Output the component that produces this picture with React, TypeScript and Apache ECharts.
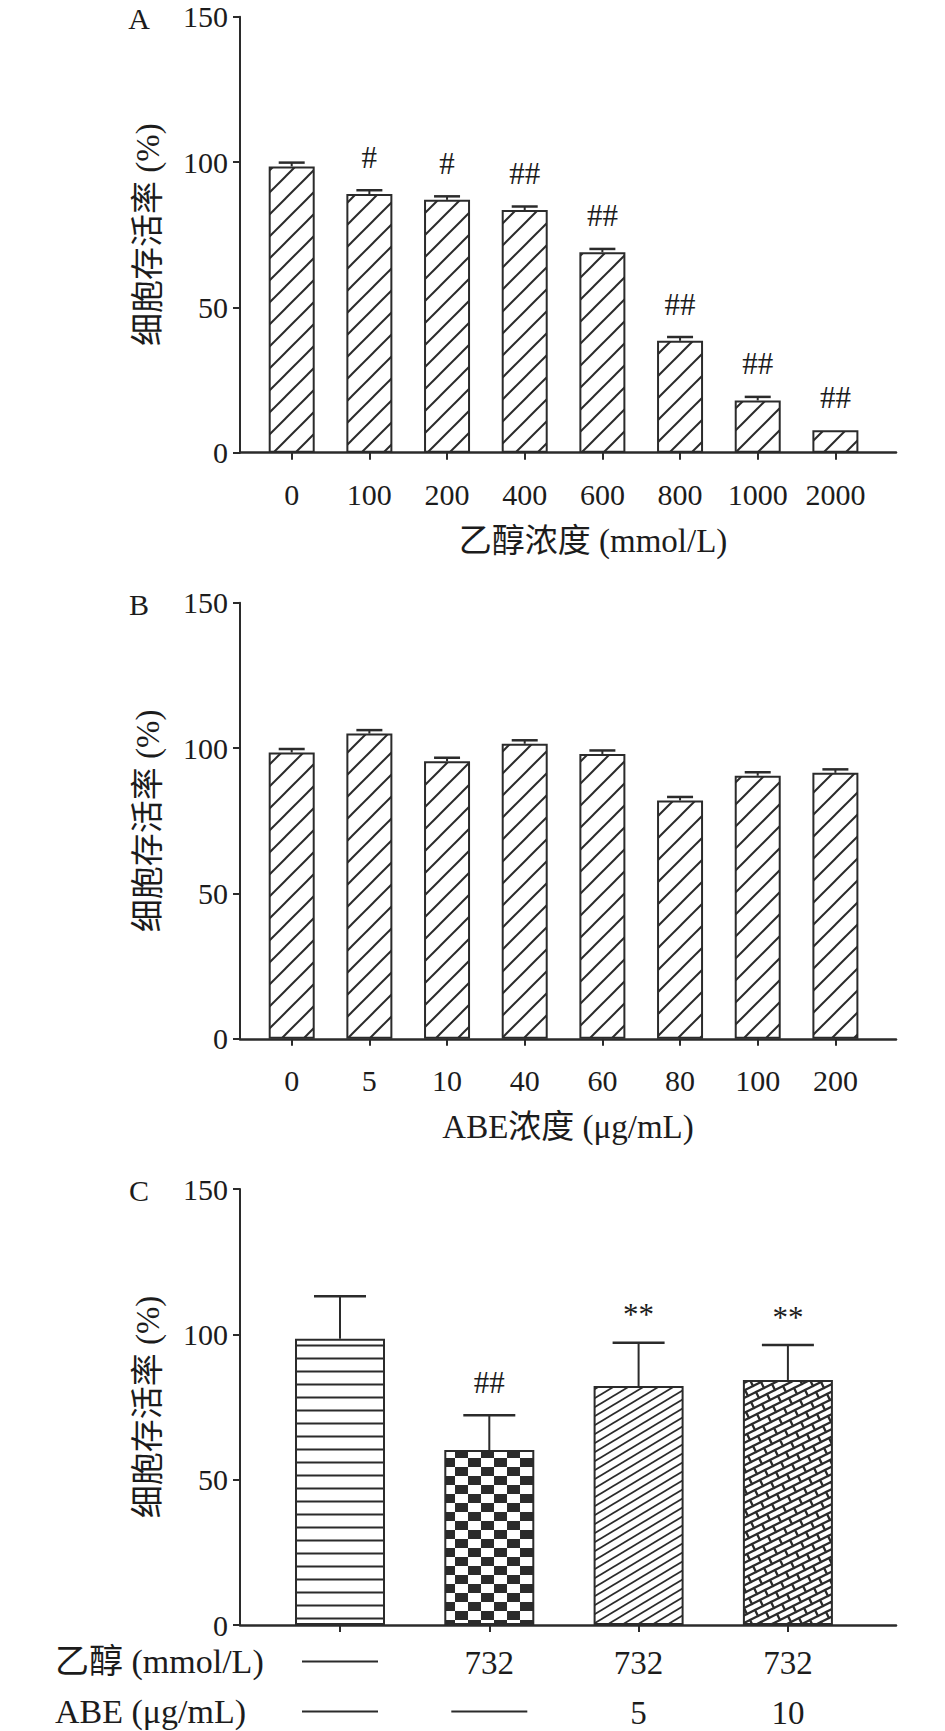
import React, { useEffect, useRef } from 'react';
import * as echarts from 'echarts';

// ---------- data ----------
const ethanolConc = ['0', '100', '200', '400', '600', '800', '1000', '2000'];
const ethanolViability = [98.5, 89, 87, 83.5, 69, 38.5, 18, 7.7];
const ethanolError = [1.3, 1.3, 1.2, 1.2, 1.1, 1.3, 1.2, 0];
const ethanolMarks = ['', '#', '#', '##', '##', '##', '##', '##'];

const abeConc = ['0', '5', '10', '40', '60', '80', '100', '200'];
const abeViability = [98.5, 105, 95.5, 101.5, 98, 82, 90.5, 91.5];
const abeError = [1.2, 1.2, 1.2, 1.2, 1.2, 1.2, 1.2, 1.2];
const abeMarks = ['', '', '', '', '', '', '', ''];

const groupEthanol = [null, '732', '732', '732'];
const groupAbe = [null, null, '5', '10'];
const groupViability = [98.5, 60.2, 82.2, 84.3];
const groupError = [14.6, 12.0, 14.9, 12.0];
const groupMarks = ['', '##', '**', '**'];

const yLabel = '细胞存活率 (%)';
const xLabelA = '乙醇浓度 (mmol/L)';
const xLabelB = 'ABE浓度 (μg/mL)';
const rowLabelEthanol = '乙醇 (mmol/L)';
const rowLabelAbe = 'ABE (μg/mL)';
const panelLetters = ['A', 'B', 'C'];

// ---------- styles ----------
const INK = '#2b2b2b';
const TXT = '#1c1c1c';
const FONT = "'Liberation Serif', 'Times New Roman', 'Noto Sans CJK SC', serif";

function makeTile(w: number, h: number, draw: (ctx: CanvasRenderingContext2D) => void) {
  const c = document.createElement('canvas');
  c.width = w;
  c.height = h;
  const ctx = c.getContext('2d') as CanvasRenderingContext2D;
  ctx.fillStyle = '#ffffff';
  ctx.fillRect(0, 0, w, h);
  ctx.strokeStyle = INK;
  ctx.fillStyle = INK;
  ctx.lineWidth = 2;
  draw(ctx);
  return c;
}

function diagTile(w: number, h: number, lw: number) {
  return makeTile(w, h, (ctx) => {
    ctx.lineWidth = lw;
    const s = h / w;
    for (let k = -1; k <= 1; k++) {
      ctx.beginPath();
      ctx.moveTo(-2, h * (1 + k) + 2 * s);
      ctx.lineTo(w + 2, h * k - 2 * s);
      ctx.stroke();
    }
  });
}

function hLineTile() {
  return makeTile(4, 13, (ctx) => {
    ctx.fillRect(0, 5.5, 4, 2);
  });
}

function checkerTile() {
  return makeTile(26, 18, (ctx) => {
    ctx.fillRect(0, 0, 13, 9);
    ctx.fillRect(13, 9, 13, 9);
  });
}

function brickTile() {
  // rotated brick wall, lattice a=(16,-8), b=(11,2); periodic in 60 x 120
  return makeTile(60, 120, (ctx) => {
    ctx.lineWidth = 2.3;
    ctx.lineCap = 'round';
    const a = [16, -8];
    const c = [3, 6];
    const b = [11, 2];
    for (let i = -30; i <= 30; i++) {
      for (let j = -20; j <= 50; j++) {
        const px = i * a[0] + j * b[0];
        const py = i * a[1] + j * b[1];
        if (px < -40 || px > 100 || py < -40 || py > 160) continue;
        ctx.beginPath();
        ctx.moveTo(px, py);
        ctx.lineTo(px + a[0], py + a[1]);
        ctx.moveTo(px, py);
        ctx.lineTo(px + c[0], py + c[1]);
        ctx.stroke();
      }
    }
  });
}

type Panel = {
  top: number;
  cats: string[];
  vals: number[];
  errs: number[];
  marks: string[];
  firstCenter: number;
  step: number;
  barWidth: number;
  capWidth: number;
  xName: string;
  xNamePad: number;
  showLabels: boolean;
};

const AXIS_LEFT = 240;
const AXIS_RIGHT = 896;
const PLOT_H = 436;

export default function App() {
  const ref = useRef<HTMLDivElement>(null);

  useEffect(() => {
    if (!ref.current) return;
    const chart = echarts.init(ref.current, undefined, { renderer: 'svg' });

    const diagA = { image: diagTile(22, 22, 2), repeat: 'repeat' };
    const patternsC = [
      { image: hLineTile(), repeat: 'repeat' },
      { image: checkerTile(), repeat: 'repeat' },
      { image: diagTile(15, 9, 1.8), repeat: 'repeat' },
      { image: brickTile(), repeat: 'repeat' },
    ];

    const panels: Panel[] = [
      {
        top: 16.7, cats: ethanolConc, vals: ethanolViability, errs: ethanolError, marks: ethanolMarks,
        firstCenter: 291.7, step: 77.67, barWidth: 46, capWidth: 26, xName: xLabelA, xNamePad: 50, showLabels: true,
      },
      {
        top: 602.8, cats: abeConc, vals: abeViability, errs: abeError, marks: abeMarks,
        firstCenter: 291.7, step: 77.67, barWidth: 46, capWidth: 26, xName: xLabelB, xNamePad: 0, showLabels: true,
      },
      {
        top: 1189, cats: ['0', '1', '2', '3'], vals: groupViability, errs: groupError, marks: groupMarks,
        firstCenter: 340, step: 149.3, barWidth: 90, capWidth: 52, xName: '', xNamePad: 0, showLabels: false,
      },
    ];

    const grids: any[] = [];
    const xAxes: any[] = [];
    const yAxes: any[] = [];
    const series: any[] = [];

    panels.forEach((p, pi) => {
      const idx = p.vals.map((_, i) => i);
      grids.push({ left: AXIS_LEFT, right: 945 - AXIS_RIGHT, top: p.top, height: PLOT_H, containLabel: false });
      xAxes.push({
        gridIndex: pi,
        type: 'value',
        min: (AXIS_LEFT - p.firstCenter) / p.step,
        max: (AXIS_RIGHT - p.firstCenter) / p.step,
        axisLine: { show: true, onZero: false, lineStyle: { color: INK, width: 2.5 } },
        axisTick: { show: true, inside: false, length: 7, customValues: idx, lineStyle: { color: INK, width: 2 } },
        axisLabel: {
          show: p.showLabels,
          customValues: idx,
          formatter: (v: number) => p.cats[Math.round(v)],
          fontSize: 30,
          fontFamily: FONT,
          color: TXT,
          margin: 27,
        },
        splitLine: { show: false },
        minorTick: { show: false },
        name: p.xName,
        nameLocation: 'middle',
        nameGap: 72,
        nameTextStyle: { fontSize: 33, fontFamily: FONT, color: TXT, padding: [0, 0, 0, p.xNamePad] },
      });
      yAxes.push({
        gridIndex: pi,
        type: 'value',
        min: 0,
        max: 150,
        interval: 50,
        axisLine: { show: true, onZero: false, lineStyle: { color: INK, width: 2 } },
        axisTick: { show: true, inside: false, length: 7, lineStyle: { color: INK, width: 2 } },
        axisLabel: { fontSize: 30, fontFamily: FONT, color: TXT, margin: 12 },
        splitLine: { show: false },
        name: yLabel,
        nameLocation: 'middle',
        nameGap: 76,
        nameRotate: 90,
        nameTextStyle: { fontSize: 33, fontFamily: FONT, color: TXT },
      });

      series.push({
        type: 'bar',
        xAxisIndex: pi,
        yAxisIndex: pi,
        barWidth: p.barWidth,
        silent: true,
        data: p.vals.map((v, i) => ({
          value: [i, v],
          itemStyle: {
            color: pi === 2 ? patternsC[i] : diagA,
            borderColor: INK,
            borderWidth: 2,
          },
        })),
        z: 2,
      });

      series.push({
        type: 'custom',
        xAxisIndex: pi,
        yAxisIndex: pi,
        silent: true,
        z: 5,
        data: p.vals.map((v, i) => [i, v, p.errs[i]]),
        encode: { x: 0, y: 1 },
        renderItem: (params: any, api: any) => {
          const i = api.value(0);
          const v = api.value(1);
          const e = api.value(2);
          const base = api.coord([i, v]);
          const top = api.coord([i, v + e]);
          const half = p.capWidth / 2;
          const children: any[] = [];
          if (e > 0) {
            children.push({
              type: 'line',
              shape: { x1: top[0], y1: base[1], x2: top[0], y2: top[1] },
              style: { stroke: INK, lineWidth: 2 },
            });
            children.push({
              type: 'line',
              shape: { x1: top[0] - half, y1: top[1], x2: top[0] + half, y2: top[1] },
              style: { stroke: INK, lineWidth: 2.5 },
            });
          }
          const mark = p.marks[params.dataIndex];
          if (mark) {
            children.push({
              type: 'text',
              x: top[0],
              y: top[1] - 33 + (mark.charAt(0) === '*' ? 5 : 0),
              style: {
                text: mark,
                fontSize: 31,
                fontFamily: FONT,
                fill: TXT,
                align: 'center',
                verticalAlign: 'middle',
              },
            });
          }
          return { type: 'group', children };
        },
      });
    });

    chart.setOption({
      animation: false,
      backgroundColor: '#ffffff',
      textStyle: { fontFamily: FONT },
      grid: grids,
      xAxis: xAxes,
      yAxis: yAxes,
      series,
    });

    // graphic: panel letters and the treatment table under panel C
    const graphic: any[] = [];
    panels.forEach((p, pi) => {
      graphic.push({
        type: 'text',
        x: 139,
        y: p.top + 1.5,
        style: { text: panelLetters[pi], fontSize: 30, fontFamily: FONT, fill: TXT, align: 'center', verticalAlign: 'middle' },
      });
    });
    const rows = [
      { label: rowLabelEthanol, values: groupEthanol, y: 1661.5 },
      { label: rowLabelAbe, values: groupAbe, y: 1711.5 },
    ];
    rows.forEach((r) => {
      graphic.push({
        type: 'text',
        x: 55,
        y: r.y,
        style: { text: r.label, fontSize: 34, fontFamily: FONT, fill: TXT, align: 'left', verticalAlign: 'middle' },
      });
      r.values.forEach((val, i) => {
        const px = chart.convertToPixel({ gridIndex: 2 } as any, [i, 0]) as number[];
        const cx = px[0];
        if (val === null) {
          graphic.push({
            type: 'line',
            shape: { x1: cx - 38, y1: r.y, x2: cx + 38, y2: r.y },
            style: { stroke: INK, lineWidth: 2.2 },
          });
        } else {
          graphic.push({
            type: 'text',
            x: cx,
            y: r.y + 1,
            style: { text: val, fontSize: 33, fontFamily: FONT, fill: TXT, align: 'center', verticalAlign: 'middle' },
          });
        }
      });
    });
    chart.setOption({ graphic });

    return () => {
      chart.dispose();
    };
  }, []);

  return (
    <div
      ref={ref}
      style={{ position: 'absolute', left: 0, top: 0, width: 945, height: 1731, background: '#fff' }}
    />
  );
}
